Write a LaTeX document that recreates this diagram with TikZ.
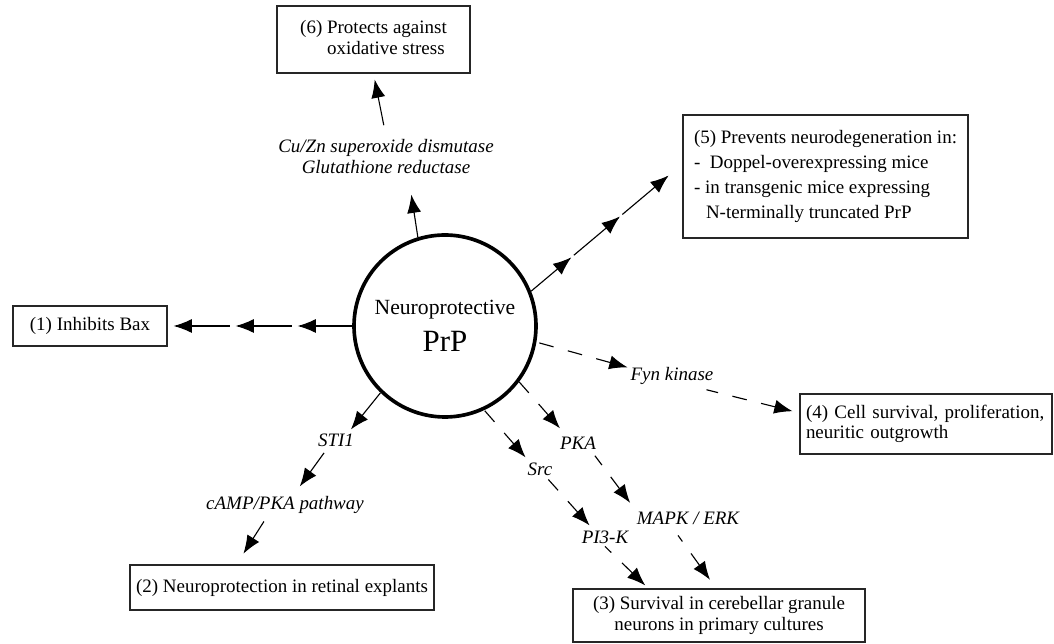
\documentclass[tikz,border=0pt]{standalone}
\usepackage{fontspec}
\setmainfont{Liberation Serif}
\usetikzlibrary{arrows.meta, calc, decorations.markings}
\tikzset{
  >={Latex[length=13pt,width=10pt]},
  core/.style={
    circle, draw, line width=2.6pt, fill=white, minimum size=4.55cm,
    inner sep=0pt, align=center, font=\fontsize{15.4}{26}\selectfont
  },
  effect/.style 2 args={
    draw=black!85, line width=0.9pt, minimum width=#1, minimum height=#2,
    inner sep=3pt, align=center, font=\fontsize{13.5}{14.5}\selectfont
  },
  mediator/.style={
    inner sep=2pt, align=center, font=\fontsize{13.5}{15}\selectfont\itshape
  },
  arr/.style={->, line width=0.8pt},
  dashlink/.style={
    <-, line width=0.8pt, dash pattern=on 10.5pt off 10.5pt
  },
  relay/.style n args={3}{
    line width=0.8pt, dash pattern=on 0pt off 0.05cm on #1 off #2,
    postaction={decorate},
    decoration={markings,
      mark=between positions 0 and 1 step #3 with
        {\arrowreversed{Latex[length=13pt,width=10pt]}}}
  }
}

\begin{document}
\begin{tikzpicture}
  \useasboundingbox (0,0) rectangle (26.35,16.075);

  % PrP in the middle
  \node[core] (prp) at (11.125,7.925)
    {Neuroprotective\\{\fontsize{22}{26}\selectfont PrP}};

  % the six effects
  \node[effect={3.85cm}{1.0cm}] (bax) at (2.25,7.925) {(1) Inhibits Bax};
  \node[effect={7.6cm}{1.125cm}] (retina) at (7.05,1.3875)
    {(2) Neuroprotection in retinal explants};
  \node[effect={7.3cm}{1.325cm}] (granule) at (17.975,0.6875)
    {(3) Survival in cerebellar granule\\neurons in primary cultures};
  \node[effect={6.3cm}{1.5cm}, text width=6.0cm, align=left] (survival) at (23.15,5.475)
    {(4) Cell survival, proliferation,\\neuritic outgrowth};
  \node[effect={7.125cm}{3.075cm}, align=left, font=\fontsize{13.5}{18}\selectfont]
    (neurodeg) at (20.6375,11.6625)
    {(5) Prevents neurodegeneration in:\\
     -\ \ Doppel-overexpressing mice\\
     - in transgenic mice expressing\\
     \hspace*{0.3cm}N-terminally truncated PrP};
  \node[effect={4.825cm}{1.675cm}, align=left] (oxid) at (9.3375,15.0875)
    {(6) Protects against\\\phantom{(6) }oxidative stress};

  % mediators on the way
  \node[mediator] (sod) at (9.65,12.1625)
    {Cu/Zn superoxide dismutase\\Glutathione reductase};
  \node[mediator] (sti) at (8.4,5.075) {STI1};
  \node[mediator] (camp) at (7.125,3.45) {cAMP/PKA pathway};
  \node[mediator] (src) at (13.5,4.35) {Src};
  \node[mediator] (pka) at (14.45,5.0) {PKA};
  \node[mediator] (pik) at (15.125,2.65) {PI3-K};
  \node[mediator] (mapk) at (17.2,3.125) {MAPK / ERK};
  \node[mediator] (fyn) at (16.8,6.675) {Fyn kinase};

  % chained solid arrows
  \draw[relay={1.35cm}{0.15cm}{1.55cm}] ($(bax.east)!0.15cm!(prp.west)$) -- (prp.west);
  \draw[relay={1.46cm}{0.075cm}{1.59cm}] ($(neurodeg.175)!0.45cm!(prp.22)$) -- (prp.22);

  % solid arrows
  \draw[arr, shorten >=0.45cm] (prp.107) -- (sod.-42);
  \draw[arr, shorten <=0.28cm, shorten >=0.15cm] (sod.north) -- (oxid.south);
  \draw[arr, shorten >=1pt] (prp.-134) -- (sti.34);
  \draw[arr, shorten <=3pt, shorten >=6pt] (sti.-135) -- (camp.50);
  \draw[arr, shorten <=4pt, shorten >=9pt] (camp.213) -- (retina.153);

  % dashed arrows
  \draw[dashlink] (fyn.169) -- (prp.-10);
  \draw[dashlink, shorten <=5pt, shorten >=6pt] (survival.175) -- (fyn.-24);
  \draw[dashlink, shorten <=5pt] (pka.145) -- (prp.-37);
  \draw[dashlink, shorten <=5pt, shorten >=3pt] (mapk.170) -- (pka.-33);
  \draw[dashlink, shorten <=7.5pt, shorten >=7pt] (granule.96) -- (mapk.211);
  \draw[dashlink, shorten <=2pt] (src.143) -- (prp.-65);
  \draw[dashlink, shorten <=2pt, shorten >=1pt] (pik.145) -- (src.-52);
  \draw[dashlink, shorten <=3pt] (granule.159) -- (pik.south);
\end{tikzpicture}
\end{document}
